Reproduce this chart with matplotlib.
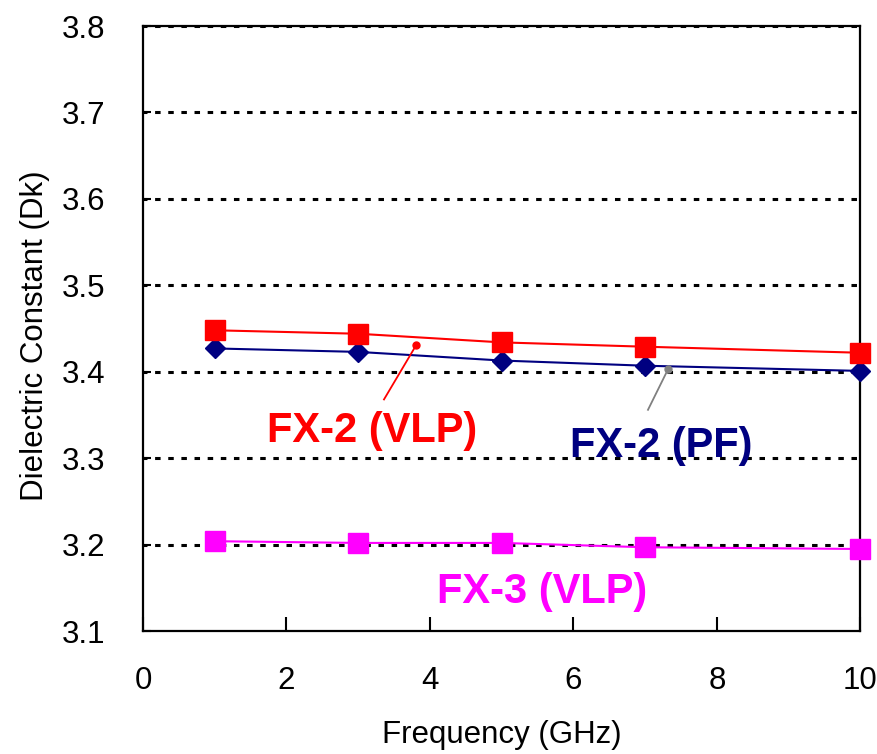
import matplotlib
matplotlib.use("Agg")
import matplotlib.pyplot as plt

# Measured dielectric constant vs. frequency
freq_ghz = [1, 3, 5, 7, 10]
dk_fx2_vlp = [3.448, 3.444, 3.434, 3.429, 3.422]
dk_fx2_pf = [3.427, 3.423, 3.413, 3.407, 3.401]
dk_fx3_vlp = [3.204, 3.202, 3.202, 3.197, 3.195]

x_ticks = [0, 2, 4, 6, 8, 10]
y_ticks = [3.1, 3.2, 3.3, 3.4, 3.5, 3.6, 3.7, 3.8]
grid_levels = [3.2, 3.3, 3.4, 3.5, 3.6, 3.7, 3.8]

plt.rcParams["font.family"] = ["Liberation Sans", "DejaVu Sans"]

fig = plt.figure(figsize=(8.77, 7.54), dpi=100)
ax = fig.add_axes([0.163, 0.163, 0.818, 0.8025])

ax.set_xlim(0, 10)
ax.set_ylim(3.1, 3.8)

# dotted horizontal reference lines
for lvl in grid_levels:
    ax.axhline(lvl, color="black", lw=2.2, ls=(0.5, (1.8, 2.5)), zorder=1)

ax.plot(freq_ghz, dk_fx2_vlp, color="#ff0000", lw=1.5, marker="s", ms=14.5,
        mec="#ff0000", mfc="#ff0000", zorder=4, clip_on=False)
ax.plot(freq_ghz, dk_fx2_pf, color="#000080", lw=1.5, marker="D", ms=10.5,
        mec="#000080", mfc="#000080", zorder=3, clip_on=False)
ax.plot(freq_ghz, dk_fx3_vlp, color="#ff00ff", lw=1.5, marker="s", ms=14.5,
        mec="#ff00ff", mfc="#ff00ff", zorder=4, clip_on=False)

# series callouts
ax.plot([3.81, 3.36], [3.431, 3.368], color="#ff0000", lw=1.3, zorder=5)
ax.plot([3.81], [3.431], "o", color="#ff0000", ms=5, zorder=5)
ax.plot([7.32, 7.04], [3.403, 3.356], color="#808080", lw=1.3, zorder=5)
ax.plot([7.32], [3.403], "o", color="#808080", ms=5, zorder=5)

ax.text(3.19, 3.319, "FX-2 (VLP)", color="#ff0000", fontsize=30,
        fontweight="bold", ha="center", va="baseline", zorder=6)
ax.text(7.22, 3.301, "FX-2 (PF)", color="#000080", fontsize=30,
        fontweight="bold", ha="center", va="baseline", zorder=6)
ax.text(5.56, 3.132, "FX-3 (VLP)", color="#ff00ff", fontsize=30,
        fontweight="bold", ha="center", va="baseline", zorder=6)

ax.set_xticks(x_ticks)
ax.set_xticklabels([str(v) for v in x_ticks])
ax.set_yticks(y_ticks)
ax.set_yticklabels([f"{v:.1f}" for v in y_ticks])

ax.tick_params(axis="x", direction="in", length=10, width=1.5,
               labelsize=22.5, pad=25, top=False)
ax.tick_params(axis="y", direction="in", length=6, width=1.5,
               labelsize=22.5, pad=27, right=False)

for s in ax.spines.values():
    s.set_linewidth(1.6)
    s.set_color("black")

ax.set_xlabel("Frequency (GHz)", fontsize=22.5)
ax.set_ylabel("Dielectric Constant (Dk)", fontsize=22.5)
ax.xaxis.set_label_coords(0.5, -0.147)
ax.yaxis.set_label_coords(-0.13, 0.488)

fig.savefig("out.png", dpi=100)
